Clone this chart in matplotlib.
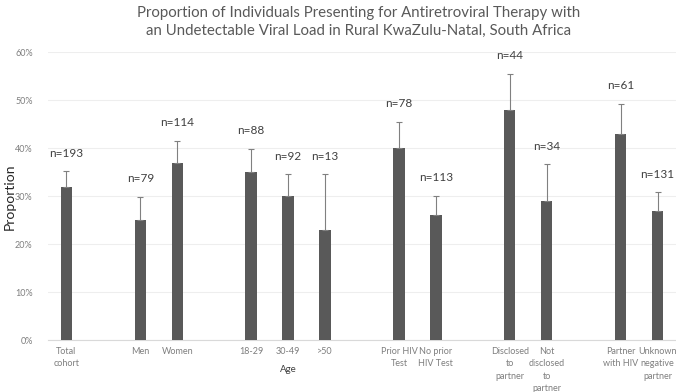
import matplotlib.pyplot as plt

# data (percent); "" entries are spacer slots
categories = ["Total\ncohort", "", "Men", "Women", "", "18-29", "30-49", ">50", "",
              "Prior HIV\nTest", "No prior\nHIV Test", "", "Disclosed\nto\npartner",
              "Not\ndisclosed\nto\npartner", "", "Partner\nwith HIV", "Unknown\nnegative\npartner"]
values = [32, None, 25, 37, None, 35, 30, 23, None, 40, 26, None, 48, 29, None, 43, 27]
upper = [35.2, None, 29.9, 41.5, None, 39.9, 34.6, 34.6, None, 45.5, 30.1, None, 55.5, 36.7, None, 49.3, 30.8]
counts = ["n=193", "", "n=79", "n=114", "", "n=88", "n=92", "n=13", "",
          "n=78", "n=113", "", "n=44", "n=34", "", "n=61", "n=131"]

plt.rcParams["font.family"] = ["Lato", "DejaVu Sans"]

fig = plt.figure(figsize=(6.76, 3.92), dpi=100)
ax = fig.add_axes([0.071, 0.132, 0.929, 0.7347])

xs = [i for i, v in enumerate(values) if v is not None]
vs = [values[i] for i in xs]
errs = [upper[i] - values[i] for i in xs]

ax.bar(xs, vs, width=0.31, color="#595959", zorder=3)
ax.errorbar(xs, vs, yerr=[[0] * len(xs), errs], fmt="none", ecolor="#808080",
            elinewidth=0.8, capsize=2, capthick=0.8, zorder=4)

for i in xs:
    ax.annotate(counts[i], (i, upper[i]), xytext=(0, 13), textcoords="offset points",
                ha="center", va="center", fontsize=8.5, color="#404040")

ax.set_xlim(-0.5, 16.5)
ax.set_ylim(0, 60)
ax.set_yticks(range(0, 61, 10))
ax.set_yticklabels([f"{t}%" for t in range(0, 61, 10)], fontsize=6.5, color="#7f7f7f")
ax.set_xticks(range(len(categories)))
ax.set_xticklabels(categories, fontsize=6.5, color="#7f7f7f", linespacing=1.45)
ax.tick_params(axis="x", length=0, pad=5)
ax.tick_params(axis="y", length=0, pad=11)
ax.grid(axis="y", color="#eeeeee", linewidth=0.8, zorder=0)
for s in ["top", "right", "left"]:
    ax.spines[s].set_visible(False)
ax.spines["bottom"].set_color("#d9d9d9")

ax.set_ylabel("Proportion", fontsize=10, color="#262626")
ax.yaxis.set_label_coords(-0.052, 0.5)
ax.text(6, -6.0, "Age", ha="center", va="center", fontsize=7, color="#404040")

fig.text(0.53, 0.985, "Proportion of Individuals Presenting for Antiretroviral Therapy with\n"
         "an Undetectable Viral Load in Rural KwaZulu-Natal, South Africa",
         ha="center", va="top", fontsize=10.8, color="#595959", linespacing=1.35)

fig.savefig("out.png", dpi=100)
